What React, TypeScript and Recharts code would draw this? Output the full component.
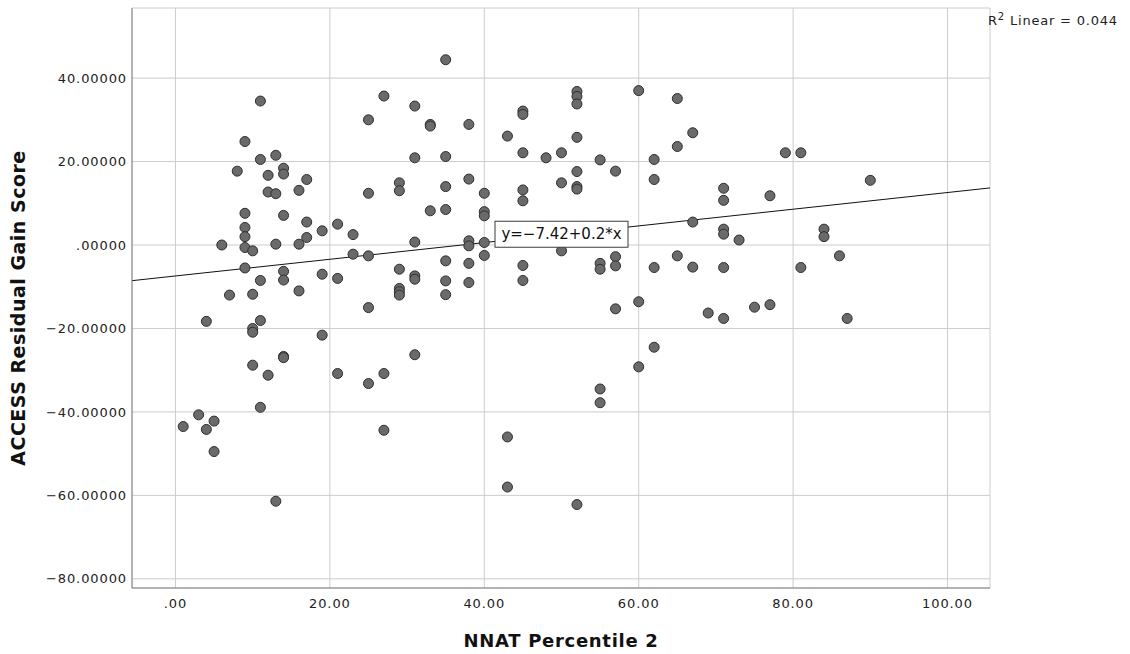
import {
  ScatterChart,
  Scatter,
  XAxis,
  YAxis,
  CartesianGrid,
  ReferenceLine,
  ReferenceDot,
  Label,
} from 'recharts';

// NNAT percentile (x) and ACCESS residual gain (y)
const nnat = [
  11, 25, 9, 11, 13, 8, 12, 14, 14, 17, 12, 13, 16, 25, 9, 14, 17, 19, 21, 23, 9, 9, 6, 9, 10, 13, 16, 17, 23, 25, 9, 14, 19, 21,
  11, 14, 7, 10, 16, 25, 4, 11, 10, 10, 19, 14, 14, 10, 12, 21, 25, 11, 3, 5, 1, 4, 5, 13,
  35, 27, 31, 33, 33, 38, 45, 45, 52, 52, 52, 43, 52, 31, 35, 45, 48, 50, 55, 29, 29, 35, 38, 40, 45, 45, 50, 52, 52, 52,
  33, 35, 40, 40, 31, 38, 38, 40, 40, 29, 35, 38, 45, 50, 55, 55,
  31, 31, 35, 38, 29, 29, 29, 35, 45, 31, 27, 27, 43, 43, 52, 55, 55,
  60, 65, 67, 65, 57, 62, 62, 71, 71, 77, 79, 81, 67, 71, 71, 73, 84, 84, 57, 57, 62, 65, 67, 71, 81, 86,
  57, 60, 69, 71, 75, 77, 87, 62, 60, 90,
];
const gain = [
  34.5, 30.0, 24.8, 20.5, 21.5, 17.7, 16.7, 18.4, 17.0, 15.7, 12.7, 12.3, 13.1, 12.4, 7.6, 7.1, 5.5, 3.4, 5.0, 2.5, 4.2, 2.0, 0.0, -0.6,
  -1.4, 0.2, 0.2, 1.8, -2.2, -2.6, -5.5, -6.3, -7.0, -8.0,
  -8.5, -8.4, -12.0, -11.8, -11.0, -15.0, -18.3, -18.1, -20.0, -20.9, -21.6, -26.7, -27.0, -28.8, -31.2, -30.8, -33.2, -38.9, -40.7,
  -42.2, -43.5, -44.2, -49.5, -61.4,
  44.4, 35.7, 33.3, 28.9, 28.5, 28.9, 32.1, 31.3, 36.8, 35.6, 33.8, 26.1, 25.8, 20.9, 21.2, 22.1, 20.9, 22.1, 20.4, 14.9, 13.0, 14.0,
  15.8, 12.4, 13.2, 10.6, 14.9, 17.6, 14.0, 13.4,
  8.2, 8.5, 8.0, 7.0, 0.7, 1.0, -0.2, 0.6, -2.5, -5.8, -3.8, -4.4, -4.9, -1.4, -4.4, -5.8,
  -7.4, -8.2, -8.6, -9.0, -10.4, -11.2, -12.0, -11.9, -8.5, -26.3, -30.8, -44.4, -46.0, -58.0, -62.2, -34.5, -37.8,
  37.0, 35.1, 26.9, 23.6, 17.7, 20.5, 15.7, 13.6, 10.7, 11.8, 22.1, 22.1, 5.5, 3.8, 2.6, 1.2, 3.8, 2.0, -2.8, -5.0, -5.4, -2.6, -5.3,
  -5.4, -5.4, -2.6,
  -15.3, -13.6, -16.3, -17.6, -14.9, -14.3, -17.6, -24.5, -29.2, 15.5,
];

const xTicks = [0, 20, 40, 60, 80, 100];
const yTicks = [-80, -60, -40, -20, 0, 20, 40];
const xDomain = [-5.63, 105.5];
const yDomain = [-82.2, 56.8];

// fit line from the reference
const fitIntercept = -7.42;
const fitSlope = 0.2;
const fitLabelAt = 50;
const rSquared = '0.044';

const points = nnat.map((x, i) => ({ x, y: gain[i] }));
const fit = (x: number) => fitIntercept + fitSlope * x;

const FONT = '"DejaVu Sans", sans-serif';

const fmtX = (v: number) => (v === 0 ? '.00' : v.toFixed(2));
const fmtY = (v: number) => {
  if (v === 0) return '.00000';
  return (v < 0 ? '\u2212' : '') + Math.abs(v).toFixed(5);
};

const Dot = (p: any) => <circle cx={p.cx} cy={p.cy} r={5} fill="#6a6a6a" stroke="#2e2e2e" strokeWidth={1} />;

const FitBox = (p: any) => (
  <g>
    <rect x={p.cx - 66.5} y={p.cy - 13} width={133} height={26} fill="#fff" stroke="#3a3a3a" strokeWidth={1} />
    <text x={p.cx} y={p.cy} textAnchor="middle" dominantBaseline="central" fontFamily={FONT} fontSize={15} fill="#111">
      {`y=\u2212${Math.abs(fitIntercept)}+${fitSlope}*x`}
    </text>
  </g>
);

const YTitle = (p: any) => {
  const vb = p.viewBox;
  const cy = vb.y + vb.height / 2 + 10;
  return (
    <text
      x={18}
      y={cy}
      transform={`rotate(-90, 18, ${cy})`}
      textAnchor="middle"
      dominantBaseline="central"
      fontFamily={FONT}
      fontWeight="bold"
      fontSize={19}
      letterSpacing={0.5}
      fill="#111"
    >
      ACCESS Residual Gain Score
    </text>
  );
};

export default function App() {
  const tickStyle = { fontFamily: FONT, fontSize: 13, fill: '#222', letterSpacing: 0.9 };
  return (
    <div style={{ position: 'absolute', left: 0, top: 0, width: 1130, height: 654, background: '#fff' }}>
      <ScatterChart width={1130} height={654} margin={{ top: 8, right: 140, left: 0, bottom: 0 }}>
        <CartesianGrid stroke="#cccccc" strokeWidth={1} />
        <XAxis
          type="number"
          dataKey="x"
          domain={xDomain}
          ticks={xTicks}
          tickFormatter={fmtX}
          allowDataOverflow
          height={66}
          tickLine={false}
          tickSize={6}
          tickMargin={5}
          axisLine={{ stroke: '#808080' }}
          tick={tickStyle}
        >
          <Label
            value="NNAT Percentile 2"
            position="insideBottom"
            offset={7}
            style={{ fontFamily: FONT, fontWeight: 'bold', fontSize: 18, fill: '#111', letterSpacing: 0.7 }}
          />
        </XAxis>
        <YAxis
          type="number"
          dataKey="y"
          domain={yDomain}
          ticks={yTicks}
          tickFormatter={fmtY}
          allowDataOverflow
          width={132}
          tickLine={false}
          tickSize={4}
          tickMargin={1}
          axisLine={{ stroke: '#808080' }}
          tick={tickStyle}
        >
          <Label content={YTitle} />
        </YAxis>
        <Scatter data={points} shape={Dot} isAnimationActive={false} />
        <ReferenceLine
          segment={[
            { x: xDomain[0], y: fit(xDomain[0]) },
            { x: xDomain[1], y: fit(xDomain[1]) },
          ]}
          stroke="#111"
          strokeWidth={1}
        />
        <ReferenceDot x={fitLabelAt} y={fit(fitLabelAt)} shape={FitBox} />
      </ScatterChart>
      <div
        style={{
          position: 'absolute',
          left: 988,
          top: 13,
          fontFamily: FONT,
          fontSize: 13,
          color: '#222',
          whiteSpace: 'nowrap',
          lineHeight: '16px',
          letterSpacing: 0.8,
        }}
      >
        R<sup style={{ fontSize: 10, lineHeight: 0 }}>2</sup> Linear = {rSquared}
      </div>
    </div>
  );
}
